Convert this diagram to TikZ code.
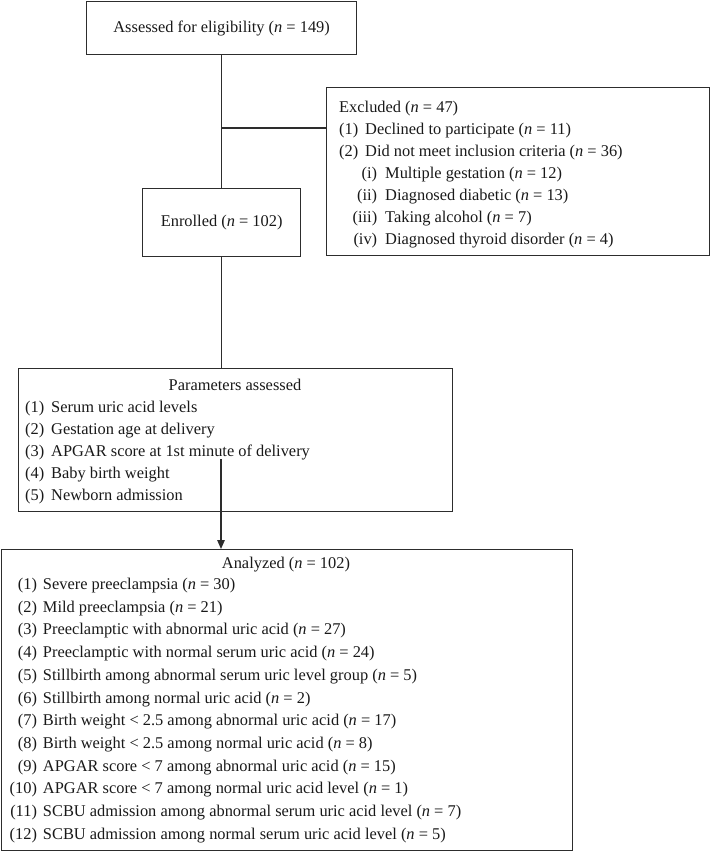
\documentclass[tikz,border=0pt]{standalone}
\usepackage{fontspec}
\setmainfont{Liberation Serif}
\usetikzlibrary{arrows.meta,calc}
\definecolor{ln}{RGB}{45,45,45}
\definecolor{tx}{RGB}{25,25,25}
\begin{document}
\begin{tikzpicture}[x=1pt,y=-1pt,
  box/.style={draw=ln, line width=1.3pt, inner sep=0pt, anchor=north west, text=tx, font=\fontsize{16.4}{22}\selectfont},
  lbl/.style={inner sep=0pt, text=tx, font=\fontsize{16.4}{22}\selectfont},
  lblw/.style={inner sep=0pt, text=tx, font=\fontsize{16.4}{22.7}\selectfont},
  conn/.style={draw=ln, line width=1.3pt},
]
\useasboundingbox (0,0) rectangle (710,851);

% boxes
\node[box, minimum width=270pt, minimum height=53pt] (assess) at (86,1) {Assessed for eligibility (\textit{n} = 149)};
\node[box, minimum width=383pt, minimum height=168pt] (excl) at (326,87) {};
\node[box, minimum width=158pt, minimum height=68pt] (enrol) at (142,188) {Enrolled (\textit{n} = 102)};
\node[box, minimum width=434pt, minimum height=143pt] (param) at (18,368) {};
\node[box, minimum width=571pt, minimum height=301pt] (anal) at (0.8,549) {};

% excluded text
\node[lbl, anchor=base west] (excltxt) at (339,112.5) {\begin{tabular}[t]{@{}l@{}}
Excluded (\textit{n} = 47)\\
\makebox[26pt][l]{(1)}Declined to participate (\textit{n} = 11)\\
\makebox[26pt][l]{(2)}Did not meet inclusion criteria (\textit{n} = 36)\\
\makebox[38pt][r]{(i)}\hspace{8pt}Multiple gestation (\textit{n} = 12)\\
\makebox[38pt][r]{(ii)}\hspace{8pt}Diagnosed diabetic (\textit{n} = 13)\\
\makebox[38pt][r]{(iii)}\hspace{8pt}Taking alcohol (\textit{n} = 7)\\
\makebox[38pt][r]{(iv)}\hspace{8pt}Diagnosed thyroid disorder (\textit{n} = 4)
\end{tabular}};

% parameters text
\node[lbl, anchor=base] (paramtitle) at (235,390) {Parameters assessed};
\node[lbl, anchor=base west] (paramtxt) at (25,412) {\begin{tabular}[t]{@{}l@{}}
\makebox[26pt][l]{(1)}Serum uric acid levels\\
\makebox[26pt][l]{(2)}Gestation age at delivery\\
\makebox[26pt][l]{(3)}APGAR score at 1st minute of delivery\\
\makebox[26pt][l]{(4)}Baby birth weight\\
\makebox[26pt][l]{(5)}Newborn admission
\end{tabular}};

% analyzed text
\node[lbl, anchor=base] (analtitle) at (286,568) {Analyzed (\textit{n} = 102)};
\node[lblw, anchor=base west] (analtxt) at (0.8,589.5) {\begin{tabular}[t]{@{}l@{}}
\makebox[36pt][r]{(1)}\hspace{6pt}Severe preeclampsia (\textit{n} = 30)\\
\makebox[36pt][r]{(2)}\hspace{6pt}Mild preeclampsia (\textit{n} = 21)\\
\makebox[36pt][r]{(3)}\hspace{6pt}Preeclamptic with abnormal uric acid (\textit{n} = 27)\\
\makebox[36pt][r]{(4)}\hspace{6pt}Preeclamptic with normal serum uric acid (\textit{n} = 24)\\
\makebox[36pt][r]{(5)}\hspace{6pt}Stillbirth among abnormal serum uric level group (\textit{n} = 5)\\
\makebox[36pt][r]{(6)}\hspace{6pt}Stillbirth among normal uric acid (\textit{n} = 2)\\
\makebox[36pt][r]{(7)}\hspace{6pt}Birth weight < 2.5 among abnormal uric acid (\textit{n} = 17)\\
\makebox[36pt][r]{(8)}\hspace{6pt}Birth weight < 2.5 among normal uric acid (\textit{n} = 8)\\
\makebox[36pt][r]{(9)}\hspace{6pt}APGAR score < 7 among abnormal uric acid (\textit{n} = 15)\\
\makebox[36pt][r]{(10)}\hspace{6pt}APGAR score < 7 among normal uric acid level (\textit{n} = 1)\\
\makebox[36pt][r]{(11)}\hspace{6pt}SCBU admission among abnormal serum uric acid level (\textit{n} = 7)\\
\makebox[36pt][r]{(12)}\hspace{6pt}SCBU admission among normal serum uric acid level (\textit{n} = 5)
\end{tabular}};

% connectors
\coordinate (br) at (221,128);
\coordinate (arrs) at (221,459);
\draw[conn] (assess.south) -- (assess.south |- enrol.north);
\draw[conn] (br) -- (br -| excl.west);
\draw[conn] (enrol.south) -- (enrol.south |- param.north);
\draw[conn, -{Triangle[length=9pt,width=7.5pt]}] (arrs) -- (arrs |- anal.north);
\end{tikzpicture}
\end{document}
